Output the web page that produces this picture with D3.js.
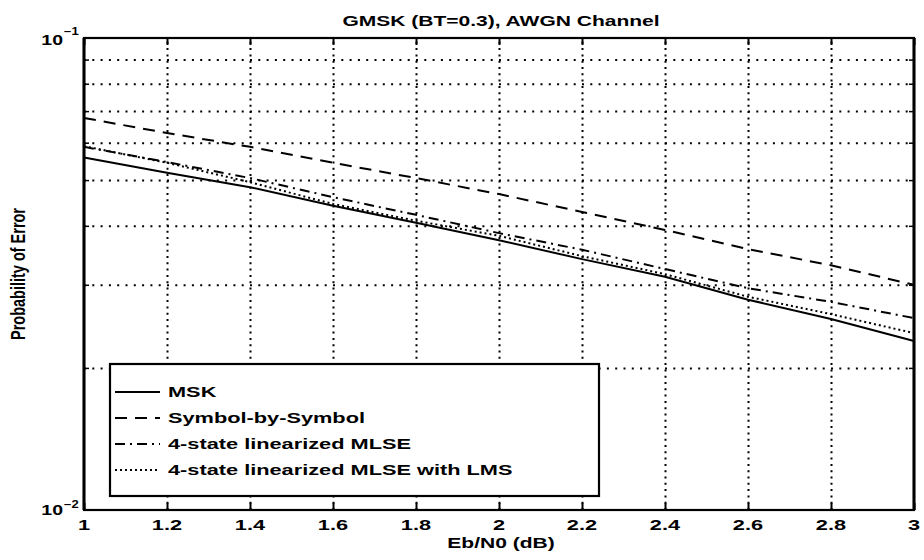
<!DOCTYPE html>
<html><head><meta charset="utf-8">
<script src="https://cdn.jsdelivr.net/npm/d3@7"></script>
<style>
body{margin:0;background:#fff;}
svg{display:block;font-family:"Liberation Sans",Arial,Helvetica,sans-serif;}
</style></head>
<body><svg id="chart" width="924" height="560"></svg>
<script>
// ---- data ----
const ebn0 = [1.0, 1.2, 1.4, 1.6, 1.8, 2.0, 2.2, 2.4, 2.6, 2.8, 3.0];
const mskValues  = [0.0558, 0.0518, 0.0483, 0.0441, 0.0406, 0.0373, 0.0340, 0.0312, 0.0279, 0.0254, 0.0228];
const sbsValues  = [0.0677, 0.0629, 0.0588, 0.0544, 0.0505, 0.0467, 0.0428, 0.0392, 0.0357, 0.0330, 0.0300];
const mlseValues = [0.0588, 0.0546, 0.0505, 0.0460, 0.0422, 0.0386, 0.0356, 0.0324, 0.0295, 0.0276, 0.0255];
const lmsValues  = [0.0590, 0.0544, 0.0495, 0.0445, 0.0410, 0.0381, 0.0345, 0.0316, 0.0283, 0.0260, 0.0237];
const seriesNames = ["MSK", "Symbol-by-Symbol", "4-state linearized MLSE", "4-state linearized MLSE with LMS"];
const xTickValues = [1, 1.2, 1.4, 1.6, 1.8, 2, 2.2, 2.4, 2.6, 2.8, 3];
const xGridValues = [1.2, 1.4, 1.6, 1.8, 2, 2.2, 2.4, 2.6, 2.8];
const yDecades = [0.1, 0.01];
const yDecadeExponents = ["\u22121", "\u22122"];
const yMinorValues = [0.02, 0.03, 0.04, 0.05, 0.06, 0.07, 0.08, 0.09];
const titleText = "GMSK (BT=0.3), AWGN Channel";
const xLabelText = "Eb/N0 (dB)";
const yLabelText = "Probability of Error";

// ---- layout ----
const L = 84, R = 914, T = 38, B = 510;
const STRETCH = 1.45;
const svg = d3.select("#chart");
const x = d3.scaleLinear().domain([1, 3]).range([L, R]);
const y = d3.scaleLog().domain([0.01, 0.1]).range([B, T]);

function stretch(sel, k) {
  sel.each(function () {
    const w = this.getComputedTextLength();
    d3.select(this).attr("textLength", w * k).attr("lengthAdjust", "spacingAndGlyphs");
  });
}

// grid
const gx = svg.append("g").attr("transform", `translate(0,${B})`)
  .call(d3.axisBottom(x).tickValues(xGridValues).tickSize(-(B - T)).tickFormat(""));
gx.select(".domain").remove();
gx.selectAll("line").attr("stroke", "#000").attr("stroke-width", 2).attr("stroke-dasharray", "2,4.3");
const gy = svg.append("g").attr("transform", `translate(${L},0)`)
  .call(d3.axisLeft(y).tickValues(yMinorValues).tickSize(-(R - L)).tickFormat(""));
gy.select(".domain").remove();
gy.selectAll("line").attr("stroke", "#000").attr("stroke-width", 2).attr("stroke-dasharray", "2,6.3");

// inward ticks
const tb = svg.append("g").attr("transform", `translate(0,${B})`)
  .call(d3.axisBottom(x).tickValues(xTickValues).tickSize(-7).tickFormat(""));
tb.select(".domain").remove();
tb.selectAll("line").attr("stroke", "#000").attr("stroke-width", 2);
const tt = svg.append("g").attr("transform", `translate(0,${T})`)
  .call(d3.axisTop(x).tickValues(xTickValues).tickSize(-7).tickFormat(""));
tt.select(".domain").remove();
tt.selectAll("line").attr("stroke", "#000").attr("stroke-width", 2);
const tl = svg.append("g").attr("transform", `translate(${L},0)`)
  .call(d3.axisLeft(y).tickValues(yMinorValues).tickSize(-5).tickFormat(""));
tl.select(".domain").remove();
tl.selectAll("line").attr("stroke", "#000").attr("stroke-width", 1.5);
const tr = svg.append("g").attr("transform", `translate(${R},0)`)
  .call(d3.axisRight(y).tickValues(yMinorValues).tickSize(-5).tickFormat(""));
tr.select(".domain").remove();
tr.selectAll("line").attr("stroke", "#000").attr("stroke-width", 1.5);

// x tick labels
const xl = svg.append("g").selectAll("text").data(xTickValues).join("text")
  .attr("x", d => x(d)).attr("y", 530).attr("text-anchor", "middle")
  .attr("font-size", 15).attr("font-weight", "bold").text(d => d3.format("")(d));
stretch(xl, STRETCH);

// y decade labels
yDecades.forEach((v, i) => {
  const yy = y(v);
  const base = svg.append("text").attr("x", 63).attr("y", yy + (i === 0 ? 7 : 5))
    .attr("text-anchor", "end").attr("font-size", 15).attr("font-weight", "bold").text("10");
  stretch(base, 1.3);
  const sup = svg.append("text").attr("x", 64).attr("y", yy + (i === 0 ? -3 : -2))
    .attr("font-size", 10).attr("font-weight", "bold").text(yDecadeExponents[i]);
  stretch(sup, 1.3);
});

// series
const series = [
  {vals: mskValues,  dash: null},
  {vals: sbsValues,  dash: "12,8"},
  {vals: mlseValues, dash: "10,5,2,5"},
  {vals: lmsValues,  dash: "2,3"}
];
const line = d3.line().x(d => x(d[0])).y(d => y(d[1]));
const gLines = svg.append("g");
series.forEach(s => {
  gLines.append("path")
    .attr("d", line(ebn0.map((e, i) => [e, s.vals[i]])))
    .attr("fill", "none").attr("stroke", "#000").attr("stroke-width", 2)
    .attr("stroke-dasharray", s.dash);
});

// frame
svg.append("rect").attr("x", L).attr("y", T).attr("width", R - L).attr("height", B - T)
  .attr("fill", "none").attr("stroke", "#000").attr("stroke-width", 2.2);
svg.append("line").attr("x1", L).attr("x2", L).attr("y1", T).attr("y2", B)
  .attr("stroke", "#000").attr("stroke-width", 3);
svg.append("line").attr("x1", R).attr("x2", R).attr("y1", T).attr("y2", B)
  .attr("stroke", "#000").attr("stroke-width", 3);

// legend
const lg = svg.append("g");
lg.append("rect").attr("x", 110).attr("y", 364).attr("width", 489).attr("height", 132)
  .attr("fill", "#fff").attr("stroke", "#000").attr("stroke-width", 2.2);
series.forEach((s, i) => {
  const by = 397 + 26 * i;
  lg.append("line").attr("x1", 115).attr("x2", 160).attr("y1", by - 5).attr("y2", by - 5)
    .attr("stroke", "#000").attr("stroke-width", 2).attr("stroke-dasharray", s.dash);
  const t = lg.append("text").attr("x", 168).attr("y", by).attr("font-size", 15)
    .attr("font-weight", "bold").text(seriesNames[i]);
  stretch(t, STRETCH);
});

// title and axis labels
const title = svg.append("text").attr("x", 501).attr("y", 26).attr("text-anchor", "middle")
  .attr("font-size", 14).attr("font-weight", "bold").text(titleText);
stretch(title, 1.5);
const xlab = svg.append("text").attr("x", 501).attr("y", 548).attr("text-anchor", "middle")
  .attr("font-size", 15).attr("font-weight", "bold").text(xLabelText);
stretch(xlab, 1.4);
svg.append("text").attr("transform", "translate(25,274) scale(1.35,1) rotate(-90)")
  .attr("text-anchor", "middle").attr("font-size", 15).attr("font-weight", "bold")
  .attr("textLength", 132).attr("lengthAdjust", "spacingAndGlyphs").text(yLabelText);
</script></body></html>
